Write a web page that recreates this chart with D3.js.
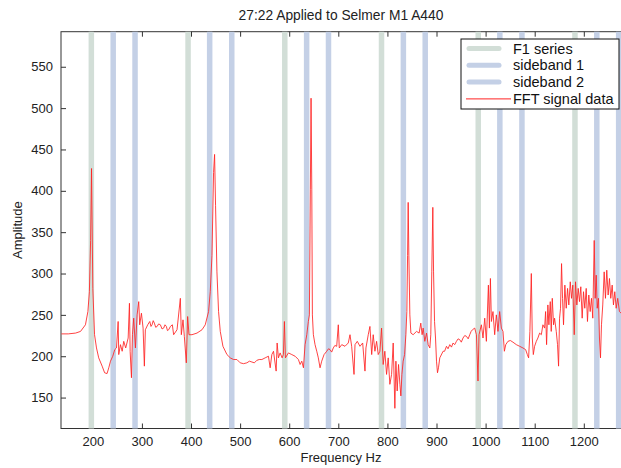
<!DOCTYPE html>
<html>
<head>
<meta charset="utf-8">
<title>27:22 Applied to Selmer M1 A440</title>
<script src="https://d3js.org/d3.v7.min.js"></script>
<style>
  body { margin: 0; background: #fff; }
  svg { display: block; font-family: "Liberation Sans", Arial, Helvetica, sans-serif; }
</style>
</head>
<body>
<div id="chart"></div>
<script>
// band positions (Hz)
var f1Series  = [197, 394, 591, 788, 985, 1182];
var sideband1 = [241.5, 438, 635.5, 832.5, 1029, 1226.5];
var sideband2 = [286, 483, 680, 877, 1074, 1271];

// FFT signal
var freqHz = [136,150,165,175,185,190,193,195.5,197.4,200,203.5,207.5,212,219,224,229,232.5,236,240.6,244.7,
  248.2,251.6,252.8,256.3,259.8,263,267,272,274.6,276,278.7,280.7,283.3,286.8,290.2,293.5,295.5,299,302.4,305,
  307,311.8,316,318.5,320.7,323,325.4,328,331,334,337.6,341,344.3,347,349.8,352,354.5,358,362,
  364.6,371.5,378.3,380.3,383.7,386.4,390.4,393.1,395.9,
  402,412.2,422.4,429,435.8,439.2,442.7,445.9,448,450,452.8,456.1,459.6,465,473.2,480,486.6,493.5,
  500.2,507,513.8,519,524,529,534,539,544.3,551,557.7,561.2,564.6,568,573.4,575.4,578,581.5,585.6,588.2,590.2,592.3,598.4,605.3,612,
  618.7,622.2,625.6,629,632.3,635.8,639,641.1,643.1,644.5,646,647.2,649.2,652.6,656.1,659.3,662.8,666.2,671,676.4,
  680,683.1,686.5,689.8,693,696.7,700,702,707,713.6,720.3,723.8,727.2,732,734,738.6,744.1,749.6,754.3,756.3,761,764.4,768,
  771.1,774.6,778,781.3,784.7,788.1,791.4,794.8,798.3,801.6,805,808.5,811.8,815.2,817.3,819.9,822.7,825.4,827.4,829.5,
  832.1,835,837.6,839.6,841.1,842.3,843.7,845.7,847.8,852.4,859.3,864.6,868,870.7,872.8,876.2,879.7,883,886.4,888.4,
  890.4,892.5,894,896,898,900,902,904,906.7,913.4,
  916.5,920.3,923.5,927,930.5,933.7,937,940.6,944,947.3,950.5,954,957.5,961,964.5,967.7,970.5,973.2,977.8,
  981.3,984.5,986.6,991.4,994.7,998.2,1001.6,1005.7,1007.7,1009.8,1011.8,1015,1018.5,1021.9,1025.2,1028.6,1032.1,1035.4,1038.2,1041,
  1045.5,1050.4,1055.7,1062.6,1069.3,1076,1081.5,1085,1087.6,1090.2,1093.1,1095.1,1097.2,1099.8,1103.3,1106.5,1110,1113.5,1116.7,1120.2,
  1122.2,1124.2,1126.8,1128.9,1131.7,1133.7,1135.8,1138.4,1140.5,1143.9,1146.5,1148.6,1150.6,1152.6,1154.7,1156.7,1158.7,1161.4,1164.2,1166.9,
  1169.5,1172.4,1175,1177.6,1180.5,1183.1,1185.8,1188.6,1191.2,1193.9,1196.7,1199.4,1202,1204.9,1207.5,1210.2,1213,1215.7,1218.3,1221.2,
  1223.2,1225.3,1227.3,1229.9,1231.9,1234,1236,1238.6,1241.5,1244.1,1246.8,1249.6,1252.3,1254.9,1257.8,1260.4,1263.1,1265.9,1269.1,1272.6,1276];
var amplitude = [227,227,228,230,238,254,278,340,427,282,226,210,198,188,180,179,186,194,200,208,
  210,242,202,214,206,218,210,222,264,206,174,226,246,210,250,266,238,252,234,188,
  232,238,242,236,238,243,240,235,236,239,238,233,234,238,236,231,232,236,238,
  226,232,270,226,244,224,192,248,226,
  226,228,232,238,254,278,322,422,444,382,302,254,230,212,202,198,196,196,
  192,191,192,194,193,192,195,196,196,198,200,186,202,206,182,216,198,204,198,202,242,198,204,202,200,
  196,190,194,186,214,226,242,250,402,512,402,250,226,214,206,198,186,194,202,206,
  209,208,205,210,213,212,238,210,214,212,216,226,212,178,214,218,212,216,182,210,226,236,202,
  226,206,218,202,206,234,190,206,178,198,166,178,216,137,194,158,190,166,152,178,
  194,202,226,254,322,386,322,250,228,226,230,228,240,226,234,218,228,214,210,226,
  302,380,302,242,222,194,180,186,198,206,
  206,212,209,214,211,216,214,218,221,220,217,222,225,224,221,226,230,232,234,
  226,170,226,238,222,246,218,286,234,294,242,254,226,250,230,254,234,230,206,214,
  218,219,217,214,212,210,208,202,198,230,300,222,202,212,218,222,228,226,238,234,
  254,214,262,238,266,230,270,238,246,230,214,188,246,258,312,270,238,286,258,282,
  262,290,270,286,226,290,262,282,266,284,246,278,258,282,242,274,254,270,246,340,
  270,298,258,270,222,198,238,262,302,270,304,274,294,270,286,262,278,258,270,254,252];

var xTicks = [200, 300, 400, 500, 600, 700, 800, 900, 1000, 1100, 1200];
var yTicks = [150, 200, 250, 300, 350, 400, 450, 500, 550];

var legendLabels = ["F1 series", "sideband 1", "sideband 2", "FFT signal data"];

var W = 621, H = 468;
var plot = {left: 61, right: 622, top: 31.7, bottom: 428.5};

var x = d3.scaleLinear().domain([135.2, 1277.8]).range([plot.left, plot.right]);
var y = d3.scaleLinear().domain([112.6, 592.4]).range([plot.bottom, plot.top]);

var svg = d3.select("#chart").append("svg")
    .attr("width", W)
    .attr("height", H);

svg.append("rect").attr("width", W).attr("height", H).attr("fill", "#fff");

// box
svg.append("rect")
    .attr("x", plot.left).attr("y", plot.top)
    .attr("width", plot.right - plot.left).attr("height", plot.bottom - plot.top)
    .attr("fill", "none").attr("stroke", "#333").attr("stroke-width", 1);

// axes, ticks pointing inward
var xAxis = svg.append("g")
    .attr("transform", "translate(0," + plot.bottom + ")")
    .call(d3.axisBottom(x).tickValues(xTicks).tickFormat(d3.format("d"))
      .tickSizeInner(-5).tickSizeOuter(0).tickPadding(8));

var xTop = svg.append("g")
    .attr("transform", "translate(0," + plot.top + ")")
    .call(d3.axisTop(x).tickValues(xTicks).tickSizeInner(-5).tickSizeOuter(0).tickFormat(""));

var yAxis = svg.append("g")
    .attr("transform", "translate(" + plot.left + ",0)")
    .call(d3.axisLeft(y).tickValues(yTicks).tickFormat(d3.format("d"))
      .tickSizeInner(-5).tickSizeOuter(0).tickPadding(8));

[xAxis, xTop, yAxis].forEach(function(g) {
  g.select(".domain").remove();
  g.selectAll("line").attr("stroke", "#333");
  g.selectAll("text").attr("fill", "#222").style("font-size", "13px")
    .style("font-family", "'Liberation Sans', Arial, sans-serif");
});

// vertical bands
var bands = svg.append("g");
function drawBands(data, color) {
  bands.selectAll(null)
    .data(data)
    .enter().append("line")
      .attr("x1", function(d) { return x(d); })
      .attr("x2", function(d) { return x(d); })
      .attr("y1", plot.top)
      .attr("y2", plot.bottom)
      .attr("stroke", color)
      .attr("stroke-width", 5.5);
}
drawBands(f1Series, "#d2ded7");
drawBands(sideband1, "#c4d0e6");
drawBands(sideband2, "#c4d0e6");

// signal
var signal = freqHz.map(function(f, i) { return [f, amplitude[i]]; });
var line = d3.line()
    .x(function(d) { return x(d[0]); })
    .y(function(d) { return y(d[1]); });

svg.append("path")
    .datum(signal)
    .attr("d", line)
    .attr("fill", "none")
    .attr("stroke", "#f22")
    .attr("stroke-opacity", 0.85)
    .attr("stroke-width", 1);

// title and labels
svg.append("text")
    .attr("x", (plot.left + 621) / 2)
    .attr("y", 19.5)
    .attr("text-anchor", "middle")
    .style("font-size", "13.8px")
    .attr("fill", "#222")
    .text("27:22 Applied to Selmer M1 A440");

svg.append("text")
    .attr("x", (plot.left + 621) / 2)
    .attr("y", 462)
    .attr("text-anchor", "middle")
    .style("font-size", "13px")
    .attr("fill", "#222")
    .text("Frequency Hz");

svg.append("text")
    .attr("transform", "translate(21.5," + ((plot.top + plot.bottom) / 2) + ") rotate(-90)")
    .attr("text-anchor", "middle")
    .style("font-size", "13px")
    .attr("fill", "#222")
    .text("Amplitude");

// legend
var legend = svg.append("g");
legend.append("rect")
    .attr("x", 461).attr("y", 39)
    .attr("width", 158).attr("height", 70)
    .attr("fill", "#fff").attr("stroke", "#111").attr("stroke-width", 1);

var legendColors = ["#d2ded7", "#c4d0e6", "#c4d0e6", "#f22"];
legendLabels.forEach(function(label, i) {
  var ly = 48.5 + i * 16.8;
  var isSignal = i === 3;
  legend.append("line")
      .attr("x1", isSignal ? 466 : 469).attr("x2", isSignal ? 511 : 499)
      .attr("y1", ly).attr("y2", ly)
      .attr("stroke", legendColors[i])
      .attr("stroke-width", isSignal ? 1 : 5)
      .attr("stroke-linecap", isSignal ? "butt" : "round");
  legend.append("text")
      .attr("x", 513)
      .attr("y", ly)
      .attr("dy", "0.35em")
      .style("font-size", "14.5px")
      .attr("fill", "#111")
      .text(label);
});
</script>
</body>
</html>
